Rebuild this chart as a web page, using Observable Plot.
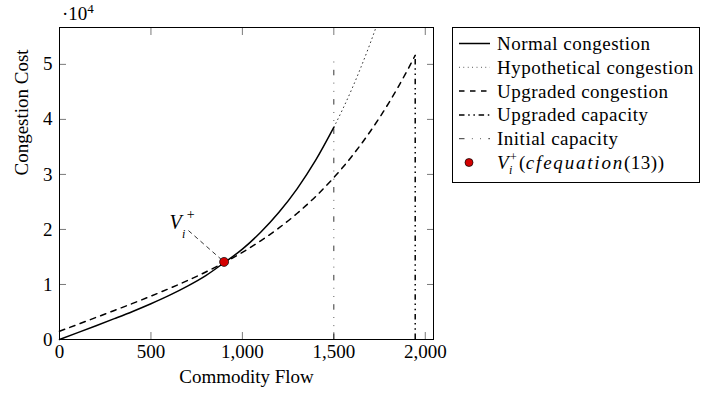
<!DOCTYPE html>
<html><head><meta charset="utf-8">
<script src="https://cdn.jsdelivr.net/npm/d3@7"></script>
<script src="https://cdn.jsdelivr.net/npm/@observablehq/plot@0.6"></script>
<style>
html,body{margin:0;padding:0;background:#fff;}
#chart{position:relative;width:701px;height:398px;}
</style></head><body><div id="chart"></div>
<script>
// ---- data ----
const flowNormal = [0,100,200,300,400,500,600,700,800,900,1000,1100,1200,1300,1400,1500];
const costNormal = [0,1250,2510,3790,5100,6500,8010,9700,11610,13950,16420,19490,23120,27430,32540,38560];
const flowHypo = [1500,1550,1600,1650,1700,1750];
const costHypo = [38560,41960,45630,49620,53920,58570];
const flowUpgraded = [0,100,200,300,400,500,600,700,800,900,1000,1100,1200,1300,1400,1500,1600,1700,1800,1900,1945];
const costUpgraded = [1500,2750,4010,5280,6560,7880,9260,10710,12270,13970,15840,17930,20280,22940,25970,29420,33360,37850,42970,48790,51640];
const upgradedCapFlow = [1945];
const upgradedCapTop = [51600];
const initialCapFlow = [1500];
const initialCapTop = [51000];
const pointFlow = [900];
const pointCost = [14100];
const annotFlow = [635];
const annotCost = [21300];
const leaderFlow = [705];
const leaderCost = [19800];
const xTicks = [0,500,1000,1500,2000];
const yTicks = [0,10000,20000,30000,40000,50000];
const xDomain = [0,2045];
const yDomain = [0,56700];
const legendLabels = ["Normal congestion","Hypothetical congestion","Upgraded congestion","Upgraded capacity","Initial capacity"];
const xLabel = "Commodity Flow";
const yLabel = "Congestion Cost";

// ---- styles ----
const FONT = "Liberation Serif, DejaVu Serif, serif";
const styles = [
  {stroke:"#000", strokeWidth:1.5, dash:null},
  {stroke:"#000", strokeWidth:0.8, dash:"0.8,3.6"},
  {stroke:"#000", strokeWidth:1.5, dash:"5.5,5.5"},
  {stroke:"#000", strokeWidth:1.5, dash:"5.5,3.7,1.5,3.7,1.5,3.7"},
  {stroke:"#000", strokeWidth:0.8, dash:"5.5,7.4,0.8,7.4,0.8,7.4"}
];

const zipData = (xs, ys) => xs.map((x, i) => ({x, y: ys[i]}));
const normal = zipData(flowNormal, costNormal);
const hypo = zipData(flowHypo, costHypo);
const upgraded = zipData(flowUpgraded, costUpgraded);
const upCap = zipData(upgradedCapFlow, upgradedCapTop);
const initCap = zipData(initialCapFlow, initialCapTop);
const point = zipData(pointFlow, pointCost);
const annot = zipData(annotFlow, annotCost);
const leader = leaderFlow.map((x, i) => ({x1: x, y1: leaderCost[i], x2: pointFlow[i], y2: pointCost[i]}));

const tickColor = "#7a7a7a";
const plot = Plot.plot({
  width: 701, height: 398,
  marginLeft: 59, marginRight: 268, marginTop: 27, marginBottom: 59,
  style: {fontFamily: FONT, fontSize: "19px", color: "#000", background: "#fff"},
  x: {domain: xDomain},
  y: {domain: yDomain},
  marks: [
    Plot.axisX(xTicks, {anchor: "bottom", tickSize: 7, dy: -7, tickFormat: () => "", label: null, stroke: tickColor}),
    Plot.axisX(xTicks, {anchor: "top", tickSize: 7, dy: 7, tickFormat: () => "", label: null, stroke: tickColor}),
    Plot.axisY(yTicks, {anchor: "left", tickSize: 7, dx: 7, tickFormat: () => "", label: null, stroke: tickColor}),
    Plot.axisY(yTicks, {anchor: "right", tickSize: 7, dx: -7, tickFormat: () => "", label: null, stroke: tickColor}),
    Plot.axisX(xTicks, {anchor: "bottom", tickSize: 0, tickPadding: 5, tickFormat: d3.format(","), label: null, fontVariant: "normal"}),
    Plot.axisY(yTicks, {anchor: "left", tickSize: 0, tickPadding: 7, tickFormat: d => d / 1e4, label: null, fontVariant: "normal"}),
    Plot.ruleX(initCap, {x: "x", y1: 0, y2: "y", stroke: styles[4].stroke, strokeWidth: styles[4].strokeWidth, strokeDasharray: styles[4].dash}),
    Plot.ruleX(upCap, {x: "x", y1: 0, y2: "y", stroke: styles[3].stroke, strokeWidth: styles[3].strokeWidth, strokeDasharray: styles[3].dash}),
    Plot.line(hypo, {x: "x", y: "y", stroke: styles[1].stroke, strokeWidth: styles[1].strokeWidth, strokeDasharray: styles[1].dash, curve: "monotone-x", clip: true}),
    Plot.line(upgraded, {x: "x", y: "y", stroke: styles[2].stroke, strokeWidth: styles[2].strokeWidth, strokeDasharray: styles[2].dash, curve: "monotone-x"}),
    Plot.line(normal, {x: "x", y: "y", stroke: styles[0].stroke, strokeWidth: styles[0].strokeWidth, curve: "monotone-x"}),
    Plot.link(leader, {x1: "x1", y1: "y1", x2: "x2", y2: "y2", stroke: "#000", strokeWidth: 0.8, strokeDasharray: "4.5,3.5"}),
    Plot.dot(point, {x: "x", y: "y", r: 4.5, fill: "#d40000", stroke: "#000", strokeWidth: 0.7}),
    Plot.text(annot, {x: "x", y: "y", text: () => "V", fontStyle: "italic", fontSize: 20}),
    Plot.text(annot, {x: "x", y: "y", text: () => "i", fontStyle: "italic", fontSize: 12, dx: 8, dy: 12}),
    Plot.text(annot, {x: "x", y: "y", text: () => "+", fontSize: 14, dx: 15, dy: -8}),
    Plot.frame({stroke: "#000", strokeWidth: 1}),
    Plot.text([xLabel], {frameAnchor: "bottom", dy: 43, text: d => d, letterSpacing: "0.5px"}),
    Plot.text([yLabel], {frameAnchor: "left", dx: -38, dy: -8, rotate: -90, text: d => d, letterSpacing: "0.5px"})
  ]
});
document.getElementById("chart").appendChild(plot);

// ---- scale factor label and legend ----
const svg = d3.select(plot);
const exp = svg.append("text").attr("x", 62).attr("y", 20).attr("text-anchor", "start")
  .attr("font-family", FONT).attr("font-size", 19).attr("fill", "#000");
exp.append("tspan").text("·10");
exp.append("tspan").attr("dy", -7).attr("font-size", 13).text("4");

const lg = svg.append("g").attr("font-family", FONT).attr("font-size", 19)
  .attr("text-anchor", "start").attr("letter-spacing", "0.5px");
lg.append("rect").attr("x", 452.5).attr("y", 27.5).attr("width", 247).attr("height", 155)
  .attr("fill", "#fff").attr("stroke", "#000").attr("stroke-width", 1);
const row0 = 43.5, step = 23.8;
legendLabels.forEach((lab, i) => {
  const cy = row0 + i * step;
  const s = styles[i];
  lg.append("line").attr("x1", 459).attr("x2", 490).attr("y1", cy).attr("y2", cy)
    .attr("stroke", s.stroke).attr("stroke-width", s.strokeWidth)
    .attr("stroke-dasharray", s.dash);
  lg.append("text").attr("x", 497).attr("y", cy + 6.5).text(lab);
});
const cy5 = row0 + 5 * step;
lg.append("circle").attr("cx", 469).attr("cy", cy5).attr("r", 4).attr("fill", "#d40000").attr("stroke", "#000").attr("stroke-width", 0.7);
const t5 = lg.append("text").attr("x", 497).attr("y", cy5 + 6.5);
t5.append("tspan").attr("font-style", "italic").text("V");
t5.append("tspan").attr("x", 509).attr("dy", 5).attr("font-size", 12).attr("font-style", "italic").text("i");
t5.append("tspan").attr("x", 510).attr("dy", -13).attr("font-size", 12).text("+");
t5.append("tspan").attr("x", 519).attr("dy", 8).text("(");
t5.append("tspan").attr("font-style", "italic").attr("letter-spacing", "1.8px").text("cfequation");
t5.append("tspan").text("(13))");
</script>
</body></html>
